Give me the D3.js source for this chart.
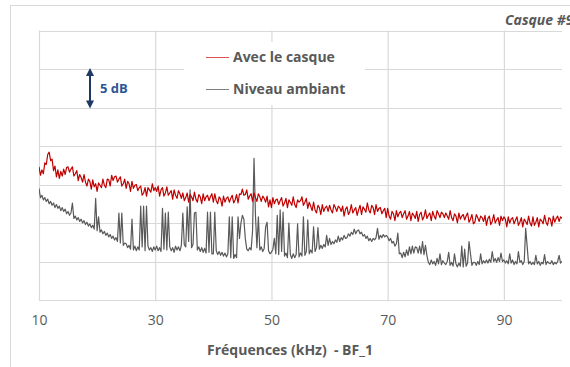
<!DOCTYPE html>
<html>
<head>
<meta charset="utf-8">
<script src="https://cdn.jsdelivr.net/npm/d3@7"></script>
<style>
  html, body { margin: 0; padding: 0; background: #fff; overflow: hidden; }
  svg { display: block; }
  text { font-family: "Open Sans", Lato, "Noto Sans", sans-serif; }
</style>
</head>
<body>
<svg id="chart" width="570" height="367"></svg>
<script>
// ---- Data ----
const freqStart = 10;      // kHz
const freqStep = 0.25;     // kHz (spectrum bin width)
const xTickValues = [10, 30, 50, 70, 90];
const xTickLabels = ["10", "30", "50", "70", "90"];
const yGridValues = [0, 5, 10, 15, 20, 25, 30, 35];   // dB (unlabelled, 5 dB grid)
const seriesNames = ["Avec le casque", "Niveau ambiant"];
const seriesColors = ["#c00000", "#595959"];

// Avec le casque (dB, relative)
const casqueValues = [
  17.3,16.2,16.9,16.4,17.8,17.6,18.9,19.2,18.1,18.3,16.8,17.4,16.0,16.9,15.8,16.7,16.1,17.0,16.3,17.2,
  17.3,16.6,17.0,17.3,16.1,16.4,16.8,15.5,16.3,15.9,15.3,16.3,15.3,14.8,15.7,15.4,14.4,15.6,14.7,15.1,
  14.1,15.2,14.9,14.6,15.7,14.9,14.6,15.7,15.6,14.8,16.2,15.5,16.0,16.1,15.3,15.7,16.0,14.8,15.1,15.7,
  14.5,15.4,15.1,14.1,15.4,14.5,14.9,15.0,14.2,14.6,14.8,13.6,13.9,14.6,13.5,14.6,14.3,14.0,15.1,14.2,
  14.6,14.1,14.8,13.5,14.3,14.6,13.5,13.9,14.7,13.6,13.9,14.2,13.1,14.3,13.6,13.2,14.2,13.8,13.2,13.9,
  12.9,13.3,13.9,12.7,13.7,13.4,12.9,14.0,13.1,12.7,13.7,13.4,12.5,13.8,12.9,13.4,13.6,12.9,13.4,13.8,
  12.7,13.8,12.9,12.5,13.4,13.1,12.2,13.5,12.7,13.2,13.4,12.7,13.2,13.6,12.6,13.0,13.7,12.6,13.8,13.7,
  14.4,13.6,13.7,14.3,13.1,13.5,13.8,12.8,13.9,13.3,12.8,13.8,13.4,12.8,13.5,13.2,12.7,13.5,12.1,13.0,
  12.0,13.3,12.5,13.0,13.1,12.4,12.9,13.3,12.2,12.6,13.2,12.0,13.0,12.7,12.3,13.4,12.4,12.0,13.0,12.7,
  12.9,13.4,12.3,12.7,13.2,11.9,12.7,12.2,11.6,12.7,11.7,11.3,12.3,12.0,11.1,12.4,11.5,12.0,12.2,11.5,
  12.3,11.7,11.3,12.4,12.0,11.5,12.2,12.0,11.5,12.2,10.9,11.8,12.1,11.1,11.5,12.4,11.3,11.7,12.0,11.0,
  11.7,12.3,11.1,12.1,11.8,11.4,12.6,11.7,11.3,12.3,12.0,11.1,12.4,11.5,11.9,12.0,11.2,11.6,11.9,10.7,
  11.9,10.9,10.5,11.5,11.2,10.3,11.6,10.8,11.3,11.5,10.7,11.2,11.6,10.5,10.9,11.5,10.3,11.3,11.0,10.6,
  11.5,10.2,11.1,11.4,10.4,10.8,11.7,10.6,11.0,11.3,10.3,11.5,10.9,10.5,11.6,11.2,10.7,11.4,11.2,10.7,
  11.3,10.9,10.5,11.6,10.7,10.3,11.2,10.9,10.0,11.3,10.5,10.9,11.1,10.4,10.9,11.3,10.1,10.5,11.1,9.9,
  10.1,11.1,10.7,10.2,10.9,10.7,10.2,11.0,9.7,10.6,10.9,9.8,10.2,11.1,10.0,10.4,10.7,9.7,10.9,10.3,
  10.8,10.5,9.5,10.8,10.0,10.5,10.7,9.9,10.4,10.8,9.7,10.1,10.7,9.5,10.5,10.2,9.8,10.9,10.0,9.6,
  10.8,9.7,10.1,10.7,9.5,10.5,10.3,9.9,11.0,10.1,9.7,10.7,10.5,9.6,10.9,10.1,10.6,10.9,10.2,10.8,
  10.6
];

// Niveau ambiant (dB, relative)
const ambiantValues = [
  14.5,13.3,13.6,13.0,13.3,12.8,13.1,12.5,12.8,12.3,12.6,12.0,12.4,11.9,12.2,11.6,12.0,11.5,11.8,11.2,
  11.5,11.0,11.3,12.6,10.6,10.9,10.4,10.7,10.2,10.5,10.0,10.3,9.8,10.1,9.6,9.9,9.4,9.7,9.2,13.2,
  9.0,10.8,8.8,9.1,8.6,8.9,8.4,8.7,8.2,8.5,8.0,8.3,7.8,8.1,7.6,11.3,7.4,11.3,7.1,7.4,
  7.3,6.8,7.1,6.6,10.5,6.5,7.0,6.4,6.9,6.5,12.2,6.9,12.2,6.4,12.2,7.0,6.5,6.8,6.3,6.9,
  6.5,7.0,6.4,6.8,6.3,11.9,6.6,11.3,6.5,11.4,6.9,6.4,6.8,6.2,7.0,6.5,6.9,6.4,7.1,11.3,
  7.2,6.9,12.1,7.6,14.3,6.8,7.2,11.3,11.4,6.5,6.9,6.3,6.8,6.2,6.7,6.1,11.4,6.2,11.4,6.0,
  6.0,11.4,6.4,5.9,6.3,5.8,6.2,5.7,6.1,5.6,6.0,10.8,5.5,10.8,5.4,5.9,5.5,10.8,8.0,10.0,
  11.0,10.5,8.0,6.6,6.4,6.8,6.5,9.0,18.4,11.0,6.8,10.8,6.5,6.9,6.3,6.7,9.5,10.1,6.4,6.0,
  6.2,6.6,8.0,6.0,11.0,5.9,11.7,6.3,11.4,5.7,6.1,5.5,10.0,5.9,5.4,6.0,5.5,5.9,9.9,5.6,
  6.1,5.7,10.8,5.8,6.3,10.4,6.0,6.5,6.1,9.5,6.3,6.8,9.4,6.6,7.1,6.7,7.2,6.9,8.4,7.1,
  8.0,7.2,7.6,7.3,7.8,7.5,8.3,7.6,8.1,7.8,8.4,8.0,8.1,8.6,8.3,8.8,8.5,9.2,8.6,9.0,
  9.1,8.6,8.8,8.3,8.5,8.0,8.3,7.7,8.0,7.6,8.0,7.8,8.1,9.3,7.9,8.4,8.1,8.5,8.2,8.4,
  8.2,7.7,8.0,7.4,7.6,7.0,7.3,8.7,6.0,6.1,5.5,6.2,5.6,6.5,5.8,6.9,6.0,7.0,6.1,6.9,
  6.8,6.1,7.0,6.0,7.6,5.9,7.1,5.8,4.9,4.6,5.2,4.7,5.0,4.5,5.4,4.7,6.0,4.6,5.1,4.8,
  4.6,5.0,6.2,4.5,4.9,4.4,6.0,4.7,4.3,4.8,4.4,7.0,4.3,6.6,4.4,4.8,7.6,6.0,4.5,4.9,
  4.9,4.5,5.0,4.6,6.0,4.7,5.1,4.8,5.2,4.8,5.3,4.9,6.3,5.0,5.4,4.9,5.5,5.0,6.1,5.0,
  5.2,4.8,5.1,4.7,6.0,4.8,5.2,4.6,5.0,4.7,6.3,4.9,5.1,4.6,5.0,9.3,7.0,4.7,5.0,4.6,
  4.9,4.6,5.8,4.7,5.0,4.5,4.9,4.7,5.9,4.6,5.0,4.8,4.7,5.1,4.6,4.9,4.7,5.0,5.8,4.8,
  5.0
];

// ---- Chart ----
const svg = d3.select("#chart");
const plot = { left: 39, right: 562, top: 30.5, bottom: 300 };
const FONT = "'Open Sans', Lato, sans-serif";

const x = d3.scaleLinear().domain([10, 100]).range([plot.left, plot.right]);
const y = d3.scaleLinear().domain([0, 35]).range([plot.bottom, plot.top]);

// outer chart frame
svg.append("rect")
  .attr("x", 10.5).attr("y", 5.5)
  .attr("width", 600).attr("height", 400)
  .attr("fill", "#fff").attr("stroke", "#d9d9d9").attr("stroke-width", 1);

// title (clipped at right edge as in original)
svg.append("text")
  .attr("x", 505).attr("y", 25)
  .attr("font-size", 14).attr("font-weight", "bold").attr("font-style", "italic")
  .attr("fill", "#595959")
  .text("Casque #9");

// horizontal gridlines
svg.append("g").selectAll("line").data(yGridValues).join("line")
  .attr("x1", plot.left).attr("x2", plot.right)
  .attr("y1", d => Math.round(y(d)) + 0.5).attr("y2", d => Math.round(y(d)) + 0.5)
  .attr("stroke", "#d9d9d9").attr("stroke-width", 1.2);

// x axis with vertical gridlines
const xAxis = d3.axisBottom(x)
  .tickValues(xTickValues)
  .tickFormat((d, i) => xTickLabels[i])
  .tickSize(-(plot.bottom - plot.top))
  .tickPadding(15);
const gx = svg.append("g")
  .attr("transform", `translate(0,${plot.bottom})`)
  .call(xAxis);
gx.select(".domain").remove();
gx.selectAll(".tick line").attr("stroke", "#d9d9d9").attr("stroke-width", 1.2);
gx.selectAll(".tick text")
  .attr("font-size", 14).attr("fill", "#595959")
  .style("font-family", FONT);

// axis title
svg.append("text")
  .attr("x", 290).attr("y", 355)
  .attr("text-anchor", "middle")
  .attr("font-size", 14).attr("font-weight", "bold").attr("fill", "#595959")
  .style("white-space", "pre")
  .text("Fréquences (kHz)  - BF_1");

// clip
svg.append("clipPath").attr("id", "plotclip")
  .append("rect")
  .attr("x", plot.left).attr("y", plot.top - 40)
  .attr("width", plot.right - plot.left).attr("height", plot.bottom - plot.top + 40);

const freqOf = i => freqStart + i * freqStep;
const line = d3.line()
  .x((d, i) => x(freqOf(i)))
  .y(d => y(d));

const lines = svg.append("g").attr("clip-path", "url(#plotclip)");
lines.append("path").datum(ambiantValues)
  .attr("d", line).attr("fill", "none")
  .attr("stroke", seriesColors[1]).attr("stroke-width", 1.2)
  .attr("stroke-linejoin", "round");
lines.append("path").datum(casqueValues)
  .attr("d", line).attr("fill", "none")
  .attr("stroke", seriesColors[0]).attr("stroke-width", 1.2)
  .attr("stroke-linejoin", "round");

// legend (white box hides gridlines)
const lg = svg.append("g");
lg.append("rect")
  .attr("x", 184).attr("y", 42).attr("width", 181).attr("height", 63)
  .attr("fill", "#fff");
const legendY = [57, 89];
const legendLineColors = ["#e05050", "#7f7f7f"];
seriesNames.forEach((name, i) => {
  lg.append("line")
    .attr("x1", 206).attr("x2", 229)
    .attr("y1", legendY[i] + 0.5).attr("y2", legendY[i] + 0.5)
    .attr("stroke", legendLineColors[i]).attr("stroke-width", 1);
  lg.append("text")
    .attr("x", 233).attr("y", legendY[i] + 5)
    .attr("font-size", 14).attr("font-weight", "bold").attr("fill", "#595959")
    .text(name);
});

// 5 dB scale annotation
const arrowX = 90;
const aTop = y(30), aBot = y(25);
svg.append("line")
  .attr("x1", arrowX).attr("x2", arrowX)
  .attr("y1", aTop + 4).attr("y2", aBot - 4)
  .attr("stroke", "#203864").attr("stroke-width", 2);
svg.append("path")
  .attr("d", `M${arrowX - 4},${aTop + 7} L${arrowX},${aTop - 1} L${arrowX + 4},${aTop + 7} Z`)
  .attr("fill", "#203864");
svg.append("path")
  .attr("d", `M${arrowX - 4},${aBot - 7} L${arrowX},${aBot + 1} L${arrowX + 4},${aBot - 7} Z`)
  .attr("fill", "#203864");
svg.append("text")
  .attr("x", 100).attr("y", (aTop + aBot) / 2 + 5)
  .attr("font-size", 13).attr("font-weight", "bold").attr("fill", "#2f5597")
  .text("5 dB");
</script>
</body>
</html>
